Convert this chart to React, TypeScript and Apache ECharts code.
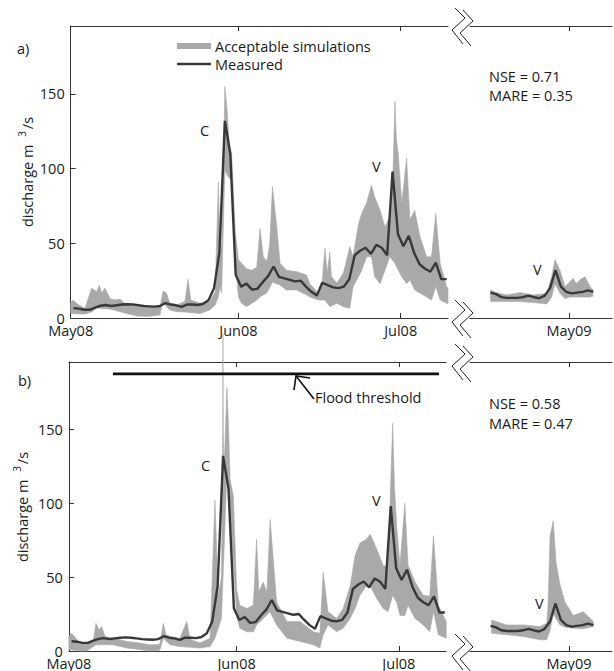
import React, { useEffect, useRef } from "react";
import * as echarts from "echarts";

// ---------- axis ticks / labels ----------
// x values are days since 1 May 2008 (main panels) or days since 1 May 2009 (right panels)
const monthTicks = [0, 31, 61];
const monthLabels = ["May08", "Jun08", "Jul08"];
const yearTicks = [0];
const yearLabels = ["May09"];
const yTickValues = [0, 50, 100, 150];

// ---------- measured discharge (daily, m3/s) ----------
const measured2008Start = 0; // 1 May 2008
const measured2008 = [
  6.6, 6.3, 5.5, 5.5, 7, 8.2, 8.7, 8, 8.5, 9, 9.2, 9, 8.5, 8, 7.8, 7.6, 8, 10, 9, 8.5,
  7.5, 9, 9, 8.7, 9.5, 12, 20, 44, 132, 110, 29, 21, 23, 19, 19.5, 24, 28, 34.5, 27.5, 26.5,
  25.5, 24.5, 25, 21, 17.5, 15, 23.6, 22, 20.5, 20, 21, 26, 42, 45, 47, 43, 49, 47, 42, 98,
  56, 48, 55, 43.5, 36, 33, 31, 37, 26, 26,
];
const measured2009Start = -15; // 16 Apr 2009
const measured2009 = [
  17, 16, 14, 13.5, 13.5, 13.5, 14, 15, 14, 13.2, 15, 20, 32, 21, 17.5, 16.5, 17, 17.5, 18.5, 17.5,
];

// ---------- acceptable simulations envelope, panel a ----------
const aUpper2008: [number, number][] = [
  [0, 10], [0.43, 12], [1.35, 9], [2.64, 6.5], [3.88, 20], [4.8, 17.6], [5.29, 22], [5.73, 16.7],
  [6.34, 20], [7.26, 13], [8.19, 12], [9.11, 12.7], [10.35, 8.7], [12.2, 7.6], [14.05, 7],
  [16.5, 7.6], [17.1, 18], [17.7, 16.5], [18.35, 9.8], [19.6, 8.7], [21.1, 11], [21.7, 26],
  [22.2, 12], [23.9, 10], [25.7, 11], [26.7, 17.6], [27.3, 91], [27.6, 41], [27.9, 50],
  [28.25, 100], [28.5, 155], [28.9, 140], [29.35, 115], [29.75, 110], [30.4, 59], [31.0, 39],
  [31.6, 36.6], [32.5, 33], [33.5, 32], [34.4, 34], [35.0, 60], [35.6, 41], [36.3, 38],
  [36.8, 50], [37.3, 88], [38.1, 61], [38.7, 36.6], [39.9, 32], [41.8, 31], [43.6, 28.8],
  [44.2, 23], [45.8, 16.5], [46.5, 25], [47.0, 46.7], [47.4, 30], [47.9, 44], [48.2, 27.7],
  [49.2, 23.4], [50.4, 30], [51.6, 47.8], [52.2, 41], [53.2, 63], [53.8, 70], [54.7, 77],
  [55.6, 89], [56.2, 81], [57.2, 72], [58.1, 61], [59.0, 68], [59.6, 100], [59.95, 145],
  [60.2, 120], [60.55, 110], [61.2, 77], [61.6, 90], [62.1, 107], [62.7, 66], [63.6, 72],
  [64.6, 54], [65.8, 41], [66.7, 41], [67.5, 70], [68.3, 36.6], [69.5, 21], [69.75, 20],
];
const aLower2008: [number, number][] = [
  [0, 3], [1.35, 2.7], [2.64, 2.7], [3.88, 4], [4.8, 6.7], [7.26, 6], [9.11, 4.2], [10.35, 3],
  [12.2, 1.3], [14.05, 1], [16.5, 2], [17.0, 10], [18.35, 5.4], [19.6, 4.2], [21.1, 4],
  [23.9, 3], [25.7, 5.4], [26.7, 8.7], [27.3, 14], [27.6, 21], [27.9, 16.7], [28.2, 60],
  [28.5, 99], [29.0, 95], [29.75, 92], [30.4, 41], [31.0, 14], [31.6, 9.8], [32.5, 7.6],
  [33.5, 9.8], [34.4, 12], [35.0, 14], [36.3, 17], [37.3, 24], [38.1, 23], [38.7, 22],
  [39.9, 18.8], [41.8, 18.8], [43.6, 15.4], [44.2, 14], [45.8, 12], [47.0, 12], [47.9, 7.6],
  [49.2, 9.8], [50.4, 7.6], [51.6, 6.5], [52.2, 21], [53.2, 27.7], [53.8, 32], [54.7, 41],
  [55.6, 41], [56.2, 27.7], [57.2, 23], [58.1, 32], [59.0, 41], [59.95, 36.6], [60.55, 32],
  [61.2, 27.7], [62.1, 23], [62.7, 25.5], [63.6, 18.8], [64.6, 16.5], [65.8, 14], [66.7, 12],
  [67.5, 21], [68.3, 12], [69.5, 9.8], [69.75, 9.5],
];
const aUpper2009: [number, number][] = [
  [-14.5, 18.8], [-13.5, 17], [-11.5, 15.4], [-9.06, 17], [-6.6, 15.4], [-4.1, 16.5],
  [-3.2, 27.7], [-2.6, 39], [-1.66, 32], [-0.74, 21], [0.18, 24.3], [0.8, 26.6], [1.3, 23],
  [2.0, 25.5], [2.96, 27.7], [3.9, 21], [4.4, 19],
];
const aLower2009: [number, number][] = [
  [-14.5, 11], [-11.5, 11], [-9.06, 11], [-6.6, 10.3], [-4.1, 9.4], [-3.2, 14], [-2.6, 23],
  [-1.66, 16.5], [-0.74, 13], [0.18, 14], [2.0, 14], [3.9, 14], [4.4, 14.5],
];

// ---------- acceptable simulations envelope, panel b ----------
const bUpper2008: [number, number][] = [
  [0, 9.8], [0.5, 12], [2.05, 5.4], [3.3, 4.5], [4.5, 6.5], [5.0, 18.7], [5.6, 14.3],
  [6.06, 16.5], [6.67, 9.8], [8.2, 8.7], [10.7, 6.5], [13.1, 5.4], [15.0, 4.2], [16.8, 4.5],
  [17.45, 18.7], [17.95, 11], [18.7, 9.8], [20.5, 8.5], [21.8, 20], [22.4, 8], [24.2, 5.4],
  [26.1, 8.7], [27.0, 102], [27.6, 37.7], [28.2, 50], [28.44, 150], [28.48, 215], [28.52, 150],
  [28.67, 120], [29.2, 178], [29.5, 154], [29.8, 116], [30.4, 105], [31.0, 42], [31.6, 31],
  [32.9, 28.8], [34.1, 31], [34.7, 75.6], [35.1, 40], [35.9, 46.6], [36.6, 40], [37.2, 89],
  [38.4, 33], [40.3, 20], [42.7, 20], [45.2, 13], [46.4, 12], [47.0, 53], [47.9, 26.6],
  [49.5, 22], [50.7, 28.8], [52.0, 44], [52.9, 64.5], [53.8, 73], [55.0, 75.6], [55.7, 79],
  [56.9, 69], [58.1, 57.8], [59.0, 57], [59.85, 154], [60.2, 110], [60.6, 84.5], [61.2, 58],
  [62.1, 100], [62.7, 58], [64.0, 46.6], [65.5, 37.7], [66.7, 37], [67.4, 78], [68.3, 31],
  [69.75, 20],
];
const bLower2008: [number, number][] = [
  [0, 1], [2.05, 0], [3.3, 0], [5.0, 4.2], [6.67, 4.2], [8.2, 4.2], [10.7, 2], [13.1, 1],
  [15.0, 0], [16.8, 0.5], [17.45, 8.7], [18.7, 4.2], [20.5, 3], [24.2, 2], [26.1, 3],
  [27.0, 8.7], [27.6, 15.4], [28.2, 22], [28.6, 60], [29.2, 120], [29.8, 95], [30.4, 60],
  [31.0, 24], [31.6, 15.4], [32.9, 13], [34.1, 13], [34.7, 17.6], [37.2, 26.6], [38.4, 17.6],
  [40.3, 8.7], [42.7, 6.5], [45.2, 4.2], [46.4, 2], [47.0, 11], [47.9, 17.6], [49.5, 13],
  [50.7, 15.4], [52.0, 22], [52.9, 28.8], [53.8, 37.7], [55.0, 44], [55.7, 44], [56.9, 35.5],
  [58.1, 28.8], [59.0, 26.6], [59.85, 37.7], [60.6, 33], [61.2, 24], [62.1, 24], [62.7, 31],
  [64.0, 22], [65.5, 17.6], [66.7, 13], [67.4, 26.6], [68.3, 11], [69.75, 8.7],
];
const bUpper2009: [number, number][] = [
  [-14.3, 21], [-11.5, 17.6], [-8.45, 17.6], [-5.36, 16.5], [-4.12, 18.7], [-3.88, 30],
  [-3.5, 78], [-2.9, 88], [-2.4, 60], [-1.66, 45], [-0.74, 33], [0.8, 24], [2.64, 26.6],
  [4.5, 20],
];
const bLower2009: [number, number][] = [
  [-14.3, 12], [-11.5, 11], [-8.45, 9.8], [-5.36, 7.6], [-4.12, 7.6], [-3.5, 14], [-2.9, 25],
  [-2.4, 22], [-1.66, 17.6], [-0.74, 16], [0.8, 15.4], [2.64, 15], [4.5, 16.5],
];

// ---------- annotations ----------
const floodThreshold = 187.5;
const floodSpan = [8.15, 68.4];
const statsA = ["NSE = 0.71", "MARE = 0.35"];
const statsB = ["NSE = 0.58", "MARE = 0.47"];
const legendNames = ["Acceptable simulations", "Measured"];

const FONT = "'Open Sans', 'Noto Sans', sans-serif";
const BAND = "#a9a9a9";
const LINE = "#383838";
const AXIS = "#333333";
const TXT = "#1a1a1a";

const Y_MAX = 195.5;
const MAIN_X = [0, 69.75];
const RIGHT_X = [-18.3, 7.95];

function xAxisPair(gridIndex: number, range: number[], ticks: number[], labels: string[]) {
  const fmt = (v: number) => {
    const i = ticks.findIndex((t) => Math.abs(t - v) < 1e-6);
    return i >= 0 ? labels[i] : "";
  };
  const base = {
    type: "value",
    gridIndex,
    min: range[0],
    max: range[1],
    splitLine: { show: false },
    axisLine: { show: true, onZero: false, lineStyle: { color: AXIS, width: 1 } },
    axisTick: { show: true, inside: true, length: 5, customValues: ticks, lineStyle: { color: AXIS } },
  };
  return [
    {
      ...base,
      position: "bottom",
      axisLabel: {
        show: true,
        customValues: ticks,
        formatter: fmt,
        margin: 5,
        color: TXT,
        fontSize: 14.5,
        fontFamily: FONT,
      },
    },
    { ...base, position: "top", axisLabel: { show: false } },
  ];
}

function yAxis(gridIndex: number, show: boolean) {
  return {
    type: "value",
    gridIndex,
    min: 0,
    max: Y_MAX,
    show,
    splitLine: { show: false },
    axisLine: { show, onZero: false, lineStyle: { color: AXIS, width: 1 } },
    axisTick: { show, inside: true, length: 5, customValues: [50, 100, 150], lineStyle: { color: AXIS } },
    axisLabel: {
      show,
      customValues: yTickValues,
      margin: 6,
      color: TXT,
      fontSize: 14.5,
      fontFamily: FONT,
    },
  };
}

function bandSeries(axisIndex: number, upper: [number, number][], lower: [number, number][]) {
  return {
    type: "custom",
    name: legendNames[0],
    xAxisIndex: axisIndex * 2,
    yAxisIndex: axisIndex,
    data: [upper[0]],
    clip: false,
    silent: true,
    z: 1,
    renderItem: (_params: any, api: any) => {
      const pts = upper
        .map((p) => api.coord(p))
        .concat(lower.slice().reverse().map((p) => api.coord(p)));
      return {
        type: "polygon",
        shape: { points: pts },
        style: { fill: BAND, stroke: BAND, lineWidth: 0.6 },
      };
    },
  };
}

function measuredSeries(axisIndex: number, values: number[], start: number) {
  return {
    type: "line",
    name: legendNames[1],
    xAxisIndex: axisIndex * 2,
    yAxisIndex: axisIndex,
    data: values.map((v, i) => [start + i + 0.5, v]),
    showSymbol: false,
    symbol: "none",
    lineStyle: { color: LINE, width: 2.4 },
    z: 3,
    silent: true,
  };
}

function txt(text: string, x: number, y: number, extra: any = {}) {
  return {
    type: "text",
    x,
    y,
    silent: true,
    style: {
      text,
      fill: TXT,
      fontSize: 14.5,
      fontFamily: FONT,
      align: "left",
      verticalAlign: "middle",
      textAlign: "left",
      textVerticalAlign: "middle",
      ...extra,
    },
  };
}

function breakMark(yc: number) {
  const s = { stroke: "#222", lineWidth: 1, fill: "none" };
  return [
    { type: "polyline", silent: true, shape: { points: [[455, yc - 19], [465, yc - 9], [452, yc + 3], [463, yc + 17]] }, style: s },
    { type: "polyline", silent: true, shape: { points: [[463, yc - 17], [473, yc - 6], [460, yc + 6], [471, yc + 19]] }, style: s },
  ];
}

function yTitle(x: number, y: number) {
  return {
    type: "text",
    x,
    y,
    rotation: Math.PI / 2,
    silent: true,
    style: {
      text: "{n|discharge m }{s|3}{n|/s}",
      fill: TXT,
      fontFamily: FONT,
      fontSize: 14.5,
      align: "center",
      verticalAlign: "middle",
      textAlign: "center",
      textVerticalAlign: "middle",
      rich: {
        n: { fontSize: 14.5, fontFamily: FONT, fill: TXT, lineHeight: 20 },
        s: { fontSize: 10, fontFamily: FONT, fill: TXT, lineHeight: 11, verticalAlign: "top", padding: [0, 2, 0, 4] },
      },
    },
  };
}

export default function App() {
  const ref = useRef<HTMLDivElement>(null);
  useEffect(() => {
    if (!ref.current) return;
    const chart = echarts.init(ref.current, null, { renderer: "svg", width: 614, height: 671 });
    const grids = [
      { left: 70.7, top: 26, width: 377.3, height: 292 },
      { left: 470, top: 26, width: 142, height: 292 },
      { left: 68.9, top: 362, width: 377.3, height: 291 },
      { left: 470, top: 362, width: 142, height: 291 },
    ];
    const option: any = {
      animation: false,
      backgroundColor: "#ffffff",
      grid: grids.map((g) => ({ ...g, containLabel: false, show: false })),
      xAxis: [
        ...xAxisPair(0, MAIN_X, monthTicks, monthLabels),
        ...xAxisPair(1, RIGHT_X, yearTicks, yearLabels),
        ...xAxisPair(2, MAIN_X, monthTicks, monthLabels),
        ...xAxisPair(3, RIGHT_X, yearTicks, yearLabels),
      ],
      yAxis: [yAxis(0, true), yAxis(1, false), yAxis(2, true), yAxis(3, false)],
      series: [
        bandSeries(0, aUpper2008, aLower2008),
        bandSeries(1, aUpper2009, aLower2009),
        bandSeries(2, bUpper2008, bLower2008),
        bandSeries(3, bUpper2009, bLower2009),
        measuredSeries(0, measured2008, measured2008Start),
        measuredSeries(1, measured2009, measured2009Start),
        measuredSeries(2, measured2008, measured2008Start),
        measuredSeries(3, measured2009, measured2009Start),
        {
          type: "line",
          name: "Flood threshold",
          xAxisIndex: 4,
          yAxisIndex: 2,
          data: [
            [floodSpan[0], floodThreshold],
            [floodSpan[1], floodThreshold],
          ],
          showSymbol: false,
          symbol: "none",
          lineStyle: { color: "#111", width: 2.6 },
          z: 4,
          silent: true,
        },
      ],
      graphic: [
        txt("a)", 17, 48),
        txt("b)", 18, 380),
        // legend
        { type: "line", silent: true, shape: { x1: 177, y1: 46, x2: 211, y2: 46 }, style: { stroke: BAND, lineWidth: 6 } },
        { type: "line", silent: true, shape: { x1: 177, y1: 64, x2: 211, y2: 64 }, style: { stroke: LINE, lineWidth: 2.5 } },
        txt(legendNames[0], 215, 46),
        txt(legendNames[1], 215, 64),
        // stats
        txt(statsA[0], 489, 76),
        txt(statsA[1], 489, 95),
        txt(statsB[0], 489, 403),
        txt(statsB[1], 489, 423),
        // event labels
        txt("C", 200, 130),
        txt("V", 372, 166),
        txt("V", 533, 269),
        txt("C", 201, 465),
        txt("V", 372, 500),
        txt("V", 535, 603),
        // y titles
        yTitle(27, 172),
        yTitle(22, 507),
        // flood threshold annotation
        { type: "line", silent: true, shape: { x1: 296, y1: 376, x2: 314, y2: 399 }, style: { stroke: "#111", lineWidth: 1.6 } },
        { type: "polyline", silent: true, shape: { points: [[294, 390], [296, 376], [310, 378]] }, style: { stroke: "#111", lineWidth: 1.6, fill: "none" } },
        txt("Flood threshold", 315, 397),
        // axis breaks
        ...breakMark(27),
        ...breakMark(319),
        ...breakMark(363),
        ...breakMark(653),
      ],
    };
    chart.setOption(option);
    return () => chart.dispose();
  }, []);
  return (
    <div
      ref={ref}
      style={{ position: "absolute", left: 0, top: 0, width: 614, height: 671, background: "#fff" }}
    />
  );
}
